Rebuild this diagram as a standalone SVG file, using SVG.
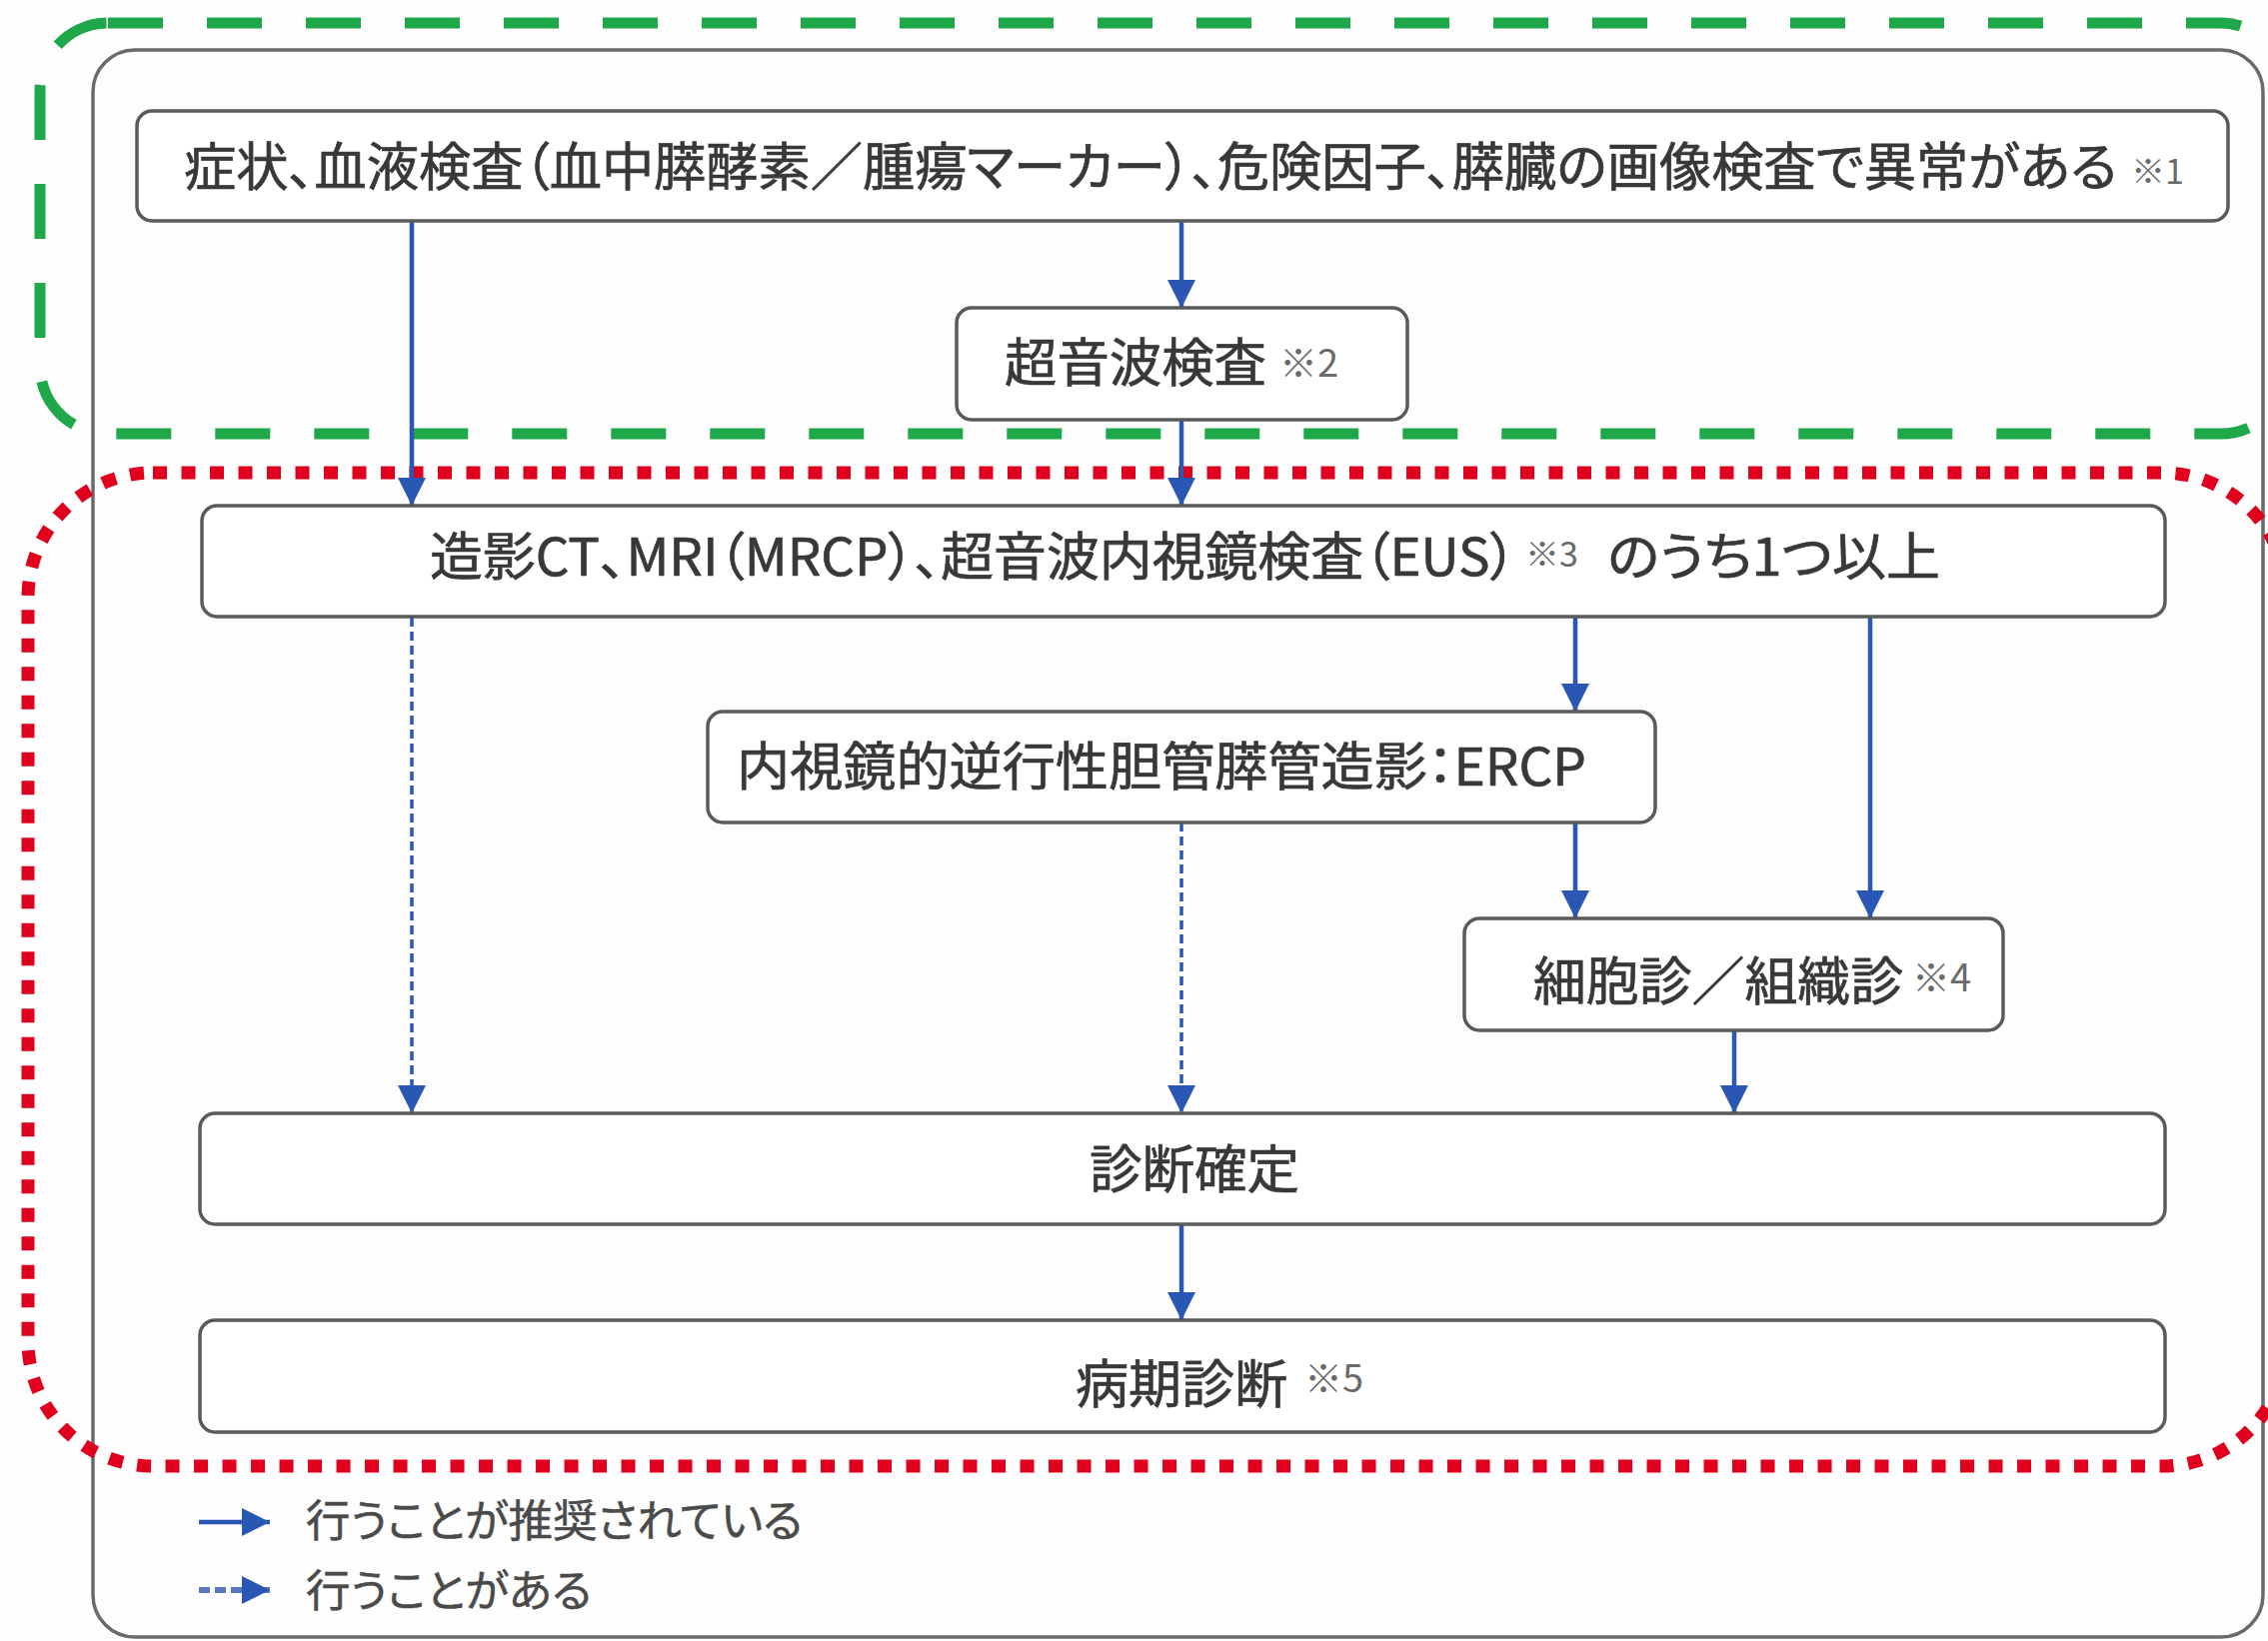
<svg xmlns="http://www.w3.org/2000/svg" width="2269" height="1642" viewBox="0 0 2269 1642">
<defs>
<style>
.bg{fill:#fdfdfd}
.outer{fill:none;stroke:#6a6a6a;stroke-width:3.5}
.green{fill:none;stroke:#1ea84a;stroke-width:11;stroke-dasharray:55 44}
.red{fill:none;stroke:#e0001e;stroke-width:13;stroke-dasharray:14 14.5}
.box{fill:#ffffff;stroke:#5a5a5a;stroke-width:3.5}
.t{font-family:"Noto Sans CJK JP","Noto Sans",sans-serif;font-size:52px;fill:#383838;stroke:#383838;stroke-width:0.7;font-feature-settings:"palt"}
.lg{font-family:"Noto Sans CJK JP","Noto Sans",sans-serif;font-size:44px;fill:#4a4a4a;stroke:#4a4a4a;stroke-width:0.5;font-feature-settings:"palt"}
.n{font-family:"Noto Sans CJK JP","Noto Sans",sans-serif;fill:#6a6a6a}
.solid{fill:none;stroke:#2a56b4;stroke-width:4.5}
.dash{fill:none;stroke:#2a56b4;stroke-width:3.5;stroke-dasharray:9 5}
</style>
<marker id="ah" markerUnits="userSpaceOnUse" markerWidth="28" markerHeight="30" viewBox="0 0 28 30" refX="28" refY="15" orient="auto">
<path d="M0,1 L28,15 L0,29 Z" fill="#2a56b4"/>
</marker>
</defs>
<rect class="bg" x="0" y="0" width="2269" height="1642"/>
<rect class="outer" x="93" y="50" width="2171" height="1588" rx="42"/>
<rect class="green" x="40" y="23" width="2250" height="411" rx="68"/>
<rect class="red" x="28" y="473" width="2260" height="994" rx="125"/>

<g id="connectors">
<path class="solid" d="M412,221 V506" marker-end="url(#ah)"/>
<path class="solid" d="M1182,221 V308" marker-end="url(#ah)"/>
<path class="solid" d="M1182,420 V506" marker-end="url(#ah)"/>
<path class="dash" d="M412,618 V1114" marker-end="url(#ah)"/>
<path class="solid" d="M1576,618 V712" marker-end="url(#ah)"/>
<path class="solid" d="M1871,618 V919" marker-end="url(#ah)"/>
<path class="dash" d="M1182,823 V1114" marker-end="url(#ah)"/>
<path class="solid" d="M1576,823 V919" marker-end="url(#ah)"/>
<path class="solid" d="M1735,1031 V1114" marker-end="url(#ah)"/>
<path class="solid" d="M1182,1225 V1321" marker-end="url(#ah)"/>
</g>

<g id="node1">
<rect class="box" x="137" y="111" width="2092" height="110" rx="15"/>
<text class="t" x="184" y="186" textLength="1934" lengthAdjust="spacingAndGlyphs">症状、血液検査（血中膵酵素／腫瘍マーカー）、危険因子、膵臓の画像検査で異常がある</text>
<text class="n" x="2132" y="184" font-size="34">※1</text>
</g>
<g id="node2">
<rect class="box" x="957" y="308" width="451" height="112" rx="15"/>
<text class="t" x="1005" y="382" textLength="262" lengthAdjust="spacingAndGlyphs">超音波検査</text>
<text class="n" x="1280" y="377" font-size="38">※2</text>
</g>
<g id="node3">
<rect class="box" x="202" y="506" width="1964" height="111" rx="15"/>
<text class="t" x="430" y="576" textLength="1087" lengthAdjust="spacingAndGlyphs">造影CT、MRI（MRCP）、超音波内視鏡検査（EUS）</text>
<text class="n" x="1526" y="567" font-size="34">※3</text>
<text class="t" x="1608" y="576" textLength="333" lengthAdjust="spacingAndGlyphs">のうち1つ以上</text>
</g>
<g id="node4">
<rect class="box" x="708" y="712" width="948" height="111" rx="15"/>
<text class="t" x="737" y="786" textLength="850" lengthAdjust="spacingAndGlyphs">内視鏡的逆行性胆管膵管造影：ERCP</text>
</g>
<g id="node5">
<rect class="box" x="1465" y="919" width="539" height="112" rx="15"/>
<text class="t" x="1534" y="1001" textLength="370" lengthAdjust="spacingAndGlyphs">細胞診／組織診</text>
<text class="n" x="1913" y="992" font-size="38">※4</text>
</g>
<g id="node6">
<rect class="box" x="200" y="1114" width="1966" height="111" rx="15"/>
<text class="t" x="1090" y="1189" textLength="210" lengthAdjust="spacingAndGlyphs">診断確定</text>
</g>
<g id="node7">
<rect class="box" x="200" y="1321" width="1966" height="112" rx="15"/>
<text class="t" x="1076" y="1404" textLength="212" lengthAdjust="spacingAndGlyphs">病期診断</text>
<text class="n" x="1305" y="1393" font-size="38">※5</text>
</g>

<g id="legend">
<path class="solid" d="M199,1523 H270" stroke-width="6" marker-end="url(#ah)"/>
<text class="lg" x="306" y="1538" textLength="497" lengthAdjust="spacingAndGlyphs">行うことが推奨されている</text>
<path d="M199,1591 H270" fill="none" stroke="#5a78c0" stroke-width="6" stroke-dasharray="11 5" marker-end="url(#ah)"/>
<text class="lg" x="306" y="1608" textLength="286" lengthAdjust="spacingAndGlyphs">行うことがある</text>
</g>
</svg>
